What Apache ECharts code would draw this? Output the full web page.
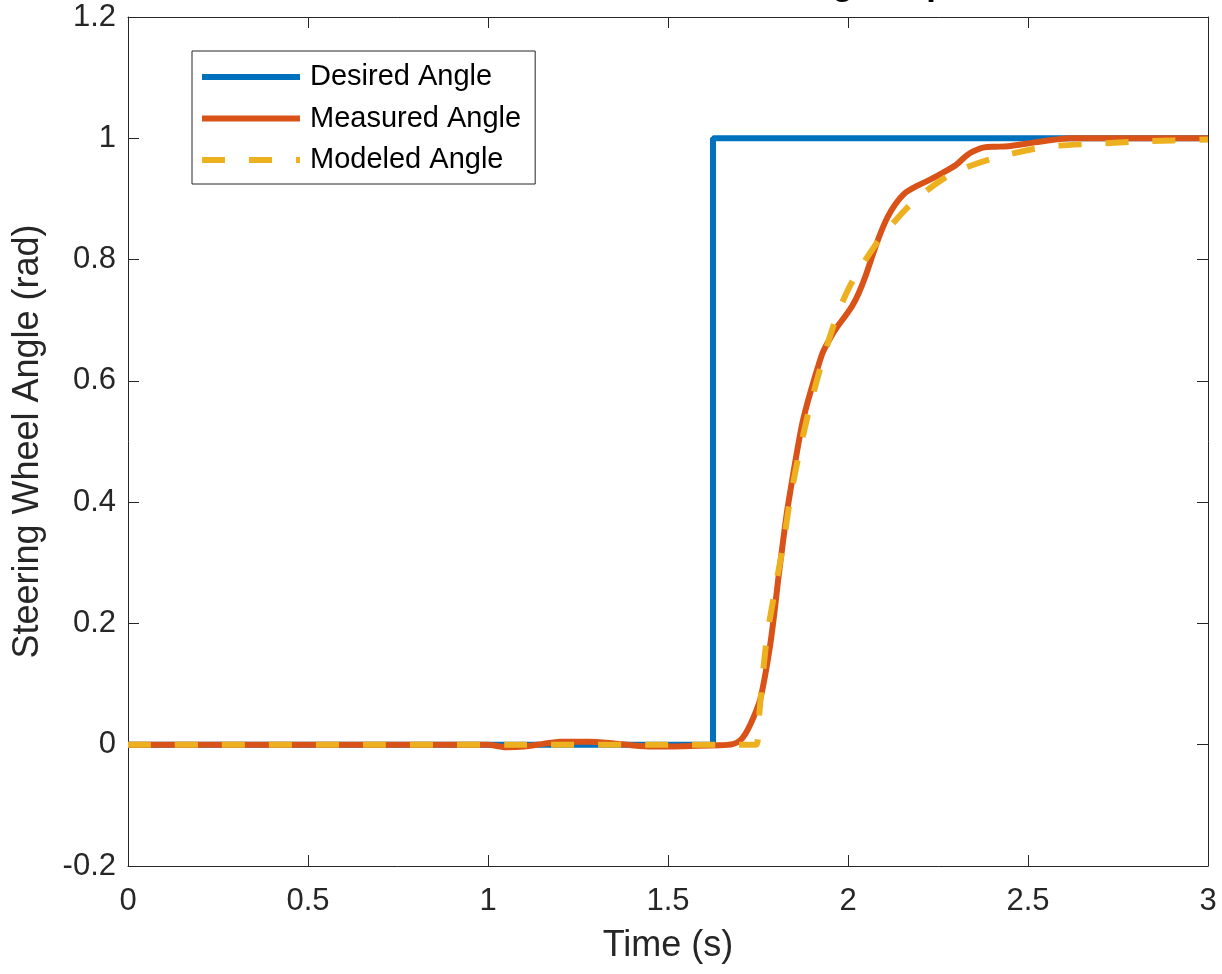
<!DOCTYPE html>
<html>
<head>
<meta charset="utf-8">
<script src="https://cdn.jsdelivr.net/npm/echarts@6/dist/echarts.min.js"></script>
<style>
html,body{margin:0;padding:0;background:#fff;}
#chart{width:1222px;height:974px;}
</style>
</head>
<body>
<div id="chart"></div>
<script>
// ---- data ----
const seriesNames = ['Desired Angle', 'Measured Angle', 'Modeled Angle'];
const xTicks = [0, 0.5, 1, 1.5, 2, 2.5, 3];
const yTicks = [-0.2, 0, 0.2, 0.4, 0.6, 0.8, 1, 1.2];

const desiredT = [0, 1.625, 1.625, 3];
const desiredY = [0, 0, 1, 1];

const measuredT = [0, 1.0, 1.05, 1.1, 1.15, 1.2, 1.28, 1.35, 1.42, 1.48, 1.56, 1.64, 1.68, 1.70, 1.715, 1.73, 1.745, 1.756, 1.77, 1.783, 1.795, 1.806, 1.818, 1.83, 1.842, 1.853, 1.864, 1.875, 1.888, 1.9, 1.915, 1.93, 1.95, 1.97, 1.99, 2.012, 2.03, 2.05, 2.071, 2.09, 2.109, 2.13, 2.157, 2.19, 2.225, 2.263, 2.3, 2.33, 2.35, 2.378, 2.41, 2.445, 2.494, 2.551, 2.618, 2.8, 3.0];
const measuredY = [0, 0, -0.004, -0.003, 0.001, 0.005, 0.005, 0.002, -0.002, -0.003, -0.002, -0.001, 0.001, 0.007, 0.018, 0.035, 0.056, 0.074, 0.115, 0.161, 0.215, 0.272, 0.328, 0.382, 0.426, 0.465, 0.502, 0.535, 0.565, 0.59, 0.62, 0.647, 0.67, 0.689, 0.705, 0.724, 0.745, 0.775, 0.812, 0.843, 0.869, 0.89, 0.909, 0.921, 0.931, 0.943, 0.956, 0.972, 0.979, 0.985, 0.986, 0.987, 0.991, 0.996, 1.0, 1.0, 1.0];

const modeledT = [0, 1.745, 1.752, 1.762, 1.775, 1.797, 1.819, 1.839, 1.864, 1.894, 1.928, 1.972, 2.014, 2.09, 2.186, 2.292, 2.417, 2.551, 2.686, 2.82, 3.0];
const modeledY = [0, 0, 0.04, 0.107, 0.178, 0.255, 0.326, 0.404, 0.48, 0.557, 0.631, 0.712, 0.766, 0.835, 0.898, 0.943, 0.969, 0.986, 0.991, 0.995, 0.998];

const titleText = 'Modeled and Measured Steering Response';
const xName = 'Time (s)';
const yName = 'Steering Wheel Angle (rad)';

// ---- chart ----
const zip = (a, b) => a.map((v, i) => [v, b[i]]);
const FONT = "'Liberation Sans', Arial, Helvetica, sans-serif";
const AX = '#262626';
const colors = ['#0072BD', '#D95319', '#EDB120'];
const solidIcon = 'path://M0,0H98V6H0Z';
const dashIcon = 'path://M0,0H23V6H0Z M47,0H70V6H47Z M94,0H98V6H94Z';

const xMin = xTicks[0], xMax = xTicks[xTicks.length - 1], xInt = xTicks[1] - xTicks[0];
const yMin = yTicks[0], yMax = yTicks[yTicks.length - 1], yInt = +(yTicks[1] - yTicks[0]).toFixed(6);

const chart = echarts.init(document.getElementById('chart'), null, {renderer: 'canvas'});

const baseAxis = {
  type: 'value',
  axisLine: {show: true, onZero: false, lineStyle: {color: AX, width: 1}},
  axisTick: {show: true, inside: true, length: 11, lineStyle: {color: AX, width: 1}},
  splitLine: {show: false}
};

chart.setOption({
  animation: false,
  backgroundColor: '#ffffff',
  graphic: [{
    type: 'text',
    x: 676, y: -15,
    silent: true,
    style: {
      text: titleText,
      font: "bold 34.5px " + FONT,
      fill: '#000000',
      align: 'center',
      verticalAlign: 'middle'
    }
  }],
  grid: {left: 128, right: 14, top: 17, bottom: 108, containLabel: false},
  legend: {
    orient: 'vertical',
    left: 192, top: 51,
    padding: [11, 14, 9, 10],
    itemGap: 11.5,
    itemWidth: 98,
    itemHeight: 6,
    backgroundColor: '#ffffff',
    borderColor: AX,
    borderWidth: 1,
    borderRadius: 0,
    data: [
      {name: seriesNames[0], icon: solidIcon},
      {name: seriesNames[1], icon: solidIcon},
      {name: seriesNames[2], icon: dashIcon}
    ],
    itemStyle: {borderWidth: 0},
    textStyle: {fontFamily: FONT, fontSize: 29, color: '#000', lineHeight: 30, padding: [0, 0, 0, 5]}
  },
  xAxis: [
    Object.assign({}, baseAxis, {
      min: xMin, max: xMax, interval: xInt, position: 'bottom',
      name: xName, nameLocation: 'middle', nameGap: 62,
      nameTextStyle: {fontFamily: FONT, fontSize: 36, color: AX},
      axisLabel: {show: true, margin: 20, fontFamily: FONT, fontSize: 31, color: AX}
    }),
    Object.assign({}, baseAxis, {
      min: xMin, max: xMax, interval: xInt, position: 'top',
      axisLabel: {show: false}
    })
  ],
  yAxis: [
    Object.assign({}, baseAxis, {
      min: yMin, max: yMax, interval: yInt, position: 'left',
      name: yName, nameLocation: 'middle', nameGap: 82, nameRotate: 90,
      nameTextStyle: {fontFamily: FONT, fontSize: 36, color: AX},
      axisLabel: {show: true, margin: 12, fontFamily: FONT, fontSize: 31, color: AX}
    }),
    Object.assign({}, baseAxis, {
      min: yMin, max: yMax, interval: yInt, position: 'right',
      axisLabel: {show: false}
    })
  ],
  series: [
    {
      name: seriesNames[0], type: 'line', data: zip(desiredT, desiredY),
      xAxisIndex: 0, yAxisIndex: 0,
      symbol: 'none', showSymbol: false,
      lineStyle: {color: colors[0], width: 6},
      itemStyle: {color: colors[0]}
    },
    {
      name: seriesNames[1], type: 'line', data: zip(measuredT, measuredY),
      xAxisIndex: 0, yAxisIndex: 0,
      symbol: 'none', showSymbol: false, smooth: 0.25,
      lineStyle: {color: colors[1], width: 6},
      itemStyle: {color: colors[1]}
    },
    {
      name: seriesNames[2], type: 'line', data: zip(modeledT, modeledY),
      xAxisIndex: 0, yAxisIndex: 0,
      symbol: 'none', showSymbol: false, smooth: 0.25,
      lineStyle: {color: colors[2], width: 6, type: [23, 24]},
      itemStyle: {color: colors[2]}
    }
  ]
});
</script>
</body>
</html>
